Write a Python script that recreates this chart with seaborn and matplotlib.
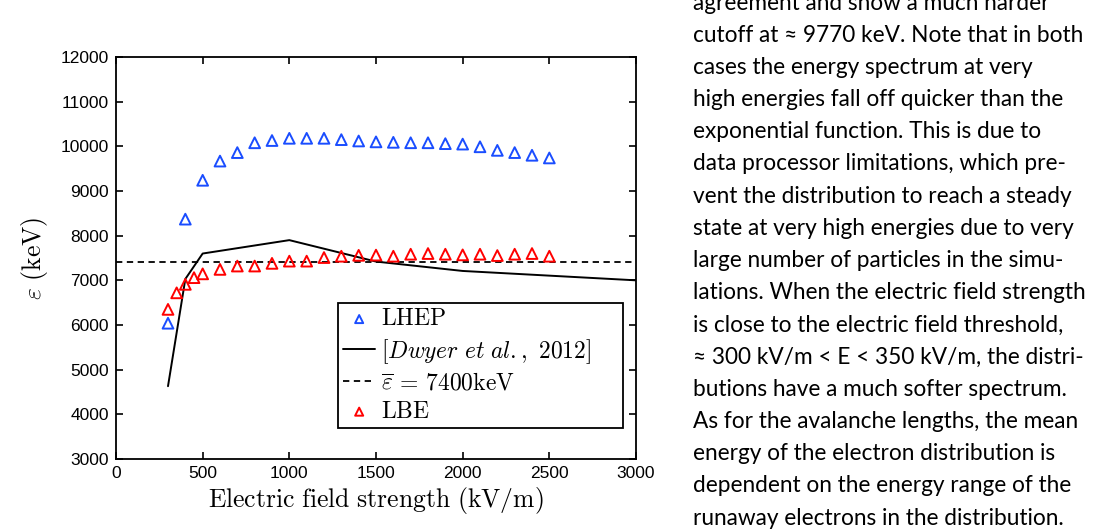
import numpy as np
import pandas as pd
import matplotlib
matplotlib.use("Agg")
import matplotlib.pyplot as plt
import seaborn as sns

# data
field_lhep = [300, 400, 500, 600, 700, 800, 900, 1000, 1100, 1200, 1300, 1400,
              1500, 1600, 1700, 1800, 1900, 2000, 2100, 2200, 2300, 2400, 2500]
energy_lhep = [6040, 8370, 9240, 9670, 9860, 10080, 10130, 10180, 10180, 10180,
               10150, 10120, 10100, 10090, 10080, 10080, 10060, 10050, 9990,
               9910, 9860, 9800, 9740]

field_lbe = [300, 350, 400, 450, 500, 600, 700, 800, 900, 1000, 1100, 1200,
             1300, 1400, 1500, 1600, 1700, 1800, 1900, 2000, 2100, 2200, 2300,
             2400, 2500]
energy_lbe = [6350, 6720, 6910, 7060, 7145, 7245, 7320, 7320, 7380, 7430, 7430,
              7510, 7540, 7560, 7565, 7540, 7585, 7600, 7585, 7570, 7585, 7555,
              7585, 7600, 7540]

field_dwyer = [300, 400, 500, 1000, 1500, 2000, 3000]
energy_dwyer = [4630, 7030, 7600, 7900, 7420, 7210, 7000]

mean_energy = 7400

side_text = [
    "agreement and show a much harder",
    "cutoff at \u2248 9770 keV. Note that in both",
    "cases the energy spectrum at very",
    "high energies fall off quicker than the",
    "exponential function. This is due to",
    "data processor limitations, which pre-",
    "vent the distribution to reach a steady",
    "state at very high energies due to very",
    "large number of particles in the simu-",
    "lations. When the electric field strength",
    "is close to the electric field threshold,",
    "\u2248 300 kV/m < E < 350 kV/m, the distri-",
    "butions have a much softer spectrum.",
    "As for the avalanche lengths, the mean",
    "energy of the electron distribution is",
    "dependent on the energy range of the",
    "runaway electrons in the distribution.",
]

sns.set_theme(style="ticks")
plt.rcParams["font.family"] = ["Liberation Sans", "DejaVu Sans"]
plt.rcParams["mathtext.fontset"] = "cm"
plt.rcParams["text.color"] = "black"
plt.rcParams["axes.labelcolor"] = "black"

W, H = 1101, 529
fig = plt.figure(figsize=(W / 100, H / 100), dpi=100)
ax = fig.add_axes([116 / W, 1 - 459 / H, 520 / W, 402 / H])

blue = "#1a4dff"
red = "#ff0000"

lhep = pd.DataFrame({"E": field_lhep, "eps": energy_lhep})
lbe = pd.DataFrame({"E": field_lbe, "eps": energy_lbe})
dwyer = pd.DataFrame({"E": field_dwyer, "eps": energy_dwyer})

sns.scatterplot(data=lhep, x="E", y="eps", ax=ax, marker="^", s=60,
                color=blue, facecolor="none", edgecolor=blue, linewidth=1.4,
                label=r"$\mathrm{LHEP}$", zorder=3)
sns.lineplot(data=dwyer, x="E", y="eps", ax=ax, color="black", linewidth=1.4,
             label=r"$[\mathit{Dwyer\ et\ al}.,\ 2012]$")
ax.axhline(mean_energy, color="black", linestyle=(0, (3.5, 2.5)),
           linewidth=1.3,
           label=r"$\overline{\varepsilon}\,=\,7400\mathrm{keV}$")
sns.scatterplot(data=lbe, x="E", y="eps", ax=ax, marker="^", s=60,
                color=red, facecolor="none", edgecolor=red, linewidth=1.4,
                label=r"$\mathrm{LBE}$", zorder=3)

ax.set_xlim(0, 3000)
ax.set_ylim(3000, 12000)
ax.set_xticks(np.arange(0, 3001, 500))
ax.set_yticks(np.arange(3000, 12001, 1000))
ax.tick_params(direction="in", top=True, right=True, length=5, width=1.2,
               labelsize=12.5, colors="black", pad=5)
for s in ax.spines.values():
    s.set_linewidth(1.3)
    s.set_color("black")

ax.set_xlabel(r"$\mathrm{Electric\ field\ strength\ (kV/m)}$", fontsize=18.5,
              labelpad=3, color="black")
ax.set_ylabel(r"$\varepsilon\ \mathrm{(keV)}$", fontsize=18.5, labelpad=8,
              color="black")

# box stretched to the width of the original legend frame
leg = ax.legend(loc="lower left", bbox_to_anchor=(0.427, 0.077, 0.548, 0.3),
                mode="expand", borderaxespad=0, fontsize=17, frameon=True,
                fancybox=False, edgecolor="black", framealpha=1,
                handlelength=1.35, handletextpad=0.25, labelspacing=0.28,
                borderpad=0.22, markerscale=0.75)
leg.get_frame().set_linewidth(1.3)
for t in leg.get_texts():
    t.set_color("black")

# the paragraph that sits next to the figure on the page
y0, step = 3, 32.19
for i, line in enumerate(side_text):
    fig.text(693 / W, 1 - (y0 + i * step) / H, line, ha="left", va="center",
             fontsize=16.3, family=["Lato", "DejaVu Sans"], color="black")

fig.savefig("out.png", dpi=100)
